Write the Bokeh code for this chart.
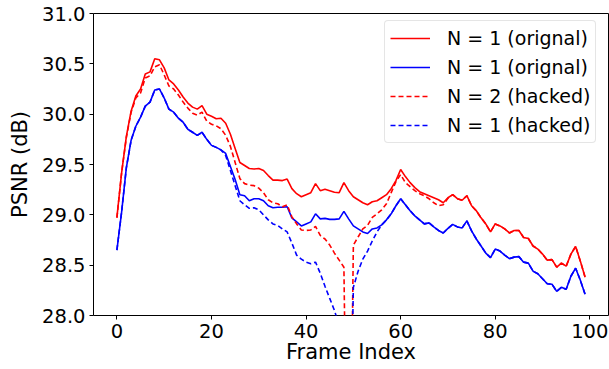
from bokeh.plotting import figure
from bokeh.models import Range1d, FixedTicker, Legend, LegendItem, PrintfTickFormatter
from bokeh.embed import file_html
from bokeh.resources import INLINE

frames = list(range(100))

red_orig = [
    28.975, 29.42, 29.78, 30.03, 30.18, 30.25, 30.40, 30.42, 30.55, 30.54,
    30.46, 30.34, 30.30, 30.24, 30.17, 30.11, 30.07, 30.05, 30.085, 30.00,
    29.98, 29.955, 29.96, 29.91, 29.80, 29.66, 29.52, 29.49, 29.46, 29.455,
    29.46, 29.44, 29.39, 29.345, 29.345, 29.34, 29.355, 29.26, 29.21, 29.18,
    29.20, 29.22, 29.31, 29.24, 29.255, 29.24, 29.225, 29.22, 29.32, 29.24,
    29.18, 29.15, 29.12, 29.10, 29.13, 29.14, 29.17, 29.20, 29.26, 29.34,
    29.45, 29.38, 29.32, 29.27, 29.23, 29.21, 29.19, 29.17, 29.15, 29.12,
    29.17, 29.20, 29.16, 29.145, 29.19, 29.09, 29.04, 28.97, 28.91, 28.83,
    28.91, 28.89, 28.86, 28.82, 28.845, 28.845, 28.775, 28.765, 28.69, 28.66,
    28.61, 28.55, 28.555, 28.48, 28.52, 28.49, 28.61, 28.685, 28.54, 28.38,
]

blue_orig = [
    28.65, 29.03, 29.47, 29.74, 29.88, 29.97, 30.08, 30.12, 30.24, 30.25,
    30.16, 30.05, 30.02, 29.96, 29.92, 29.85, 29.82, 29.79, 29.82, 29.75,
    29.69, 29.67, 29.645, 29.61, 29.48, 29.35, 29.20, 29.19, 29.14, 29.16,
    29.16, 29.14, 29.09, 29.07, 29.075, 29.075, 29.08, 28.97, 28.93, 28.89,
    28.91, 28.93, 29.01, 28.96, 28.965, 28.955, 28.955, 28.96, 29.035, 28.96,
    28.89, 28.86, 28.83, 28.815, 28.86, 28.87, 28.90, 28.95, 29.01, 29.09,
    29.16, 29.10, 29.04, 28.99, 28.95, 28.91, 28.92, 28.88, 28.845, 28.82,
    28.865, 28.905, 28.88, 28.87, 28.94, 28.84, 28.76, 28.69, 28.62, 28.575,
    28.66, 28.64, 28.60, 28.565, 28.58, 28.585, 28.53, 28.52, 28.44, 28.415,
    28.365, 28.315, 28.31, 28.24, 28.28, 28.26, 28.39, 28.47, 28.35, 28.21,
]

red_hacked = [
    28.97, 29.42, 29.77, 30.02, 30.16, 30.21, 30.36, 30.38, 30.47, 30.49,
    30.39, 30.28, 30.25, 30.19, 30.12, 30.06, 30.01, 29.99, 30.02, 29.93,
    29.90, 29.885, 29.855, 29.79, 29.68, 29.52, 29.36, 29.31, 29.295, 29.29,
    29.265, 29.22, 29.15, 29.12, 29.11, 29.08, 29.10, 28.98, 28.91, 28.85,
    28.845, 28.85, 28.885, 28.795, 28.76, 28.70, 28.62, 28.55, 28.48, 25.00,
    28.70, 28.78, 28.86, 28.895, 28.975, 29.01, 29.05, 29.11, 29.22, 29.33,
    29.40, 29.32, 29.28, 29.24, 29.21, 29.19, 29.16, 29.12, 29.09, 29.10,
    29.165, 29.20, 29.16, 29.145, 29.19, 29.09, 29.04, 28.97, 28.91, 28.83,
    28.91, 28.89, 28.86, 28.82, 28.845, 28.845, 28.775, 28.765, 28.69, 28.66,
    28.61, 28.55, 28.555, 28.48, 28.52, 28.49, 28.61, 28.685, 28.54, 28.38,
]

blue_hacked = [
    28.65, 29.03, 29.47, 29.74, 29.88, 29.97, 30.08, 30.12, 30.24, 30.25,
    30.16, 30.05, 30.02, 29.96, 29.92, 29.85, 29.82, 29.79, 29.82, 29.75,
    29.69, 29.67, 29.645, 29.59, 29.44, 29.29, 29.14, 29.10, 29.065, 29.07,
    29.05, 29.00, 28.95, 28.91, 28.895, 28.86, 28.83, 28.72, 28.60, 28.56,
    28.53, 28.515, 28.53, 28.42, 28.29, 28.17, 28.05, 27.90, 26.50, 25.80,
    28.28, 28.44, 28.56, 28.64, 28.74, 28.83, 28.90, 28.95, 29.01, 29.09,
    29.16, 29.10, 29.04, 28.99, 28.95, 28.91, 28.92, 28.88, 28.845, 28.82,
    28.865, 28.905, 28.88, 28.87, 28.94, 28.84, 28.76, 28.69, 28.62, 28.575,
    28.66, 28.64, 28.60, 28.565, 28.58, 28.585, 28.53, 28.52, 28.44, 28.415,
    28.365, 28.315, 28.31, 28.24, 28.28, 28.26, 28.39, 28.47, 28.35, 28.21,
]

labels = ["N = 1 (orignal)", "N = 1 (orignal)", "N = 2 (hacked)", "N = 1 (hacked)"]
x_ticks = [0, 20, 40, 60, 80, 100]
y_ticks = [28.0, 28.5, 29.0, 29.5, 30.0, 30.5, 31.0]
x_label = "Frame Index"
y_label = "PSNR (dB)"

FONT = "DejaVu Sans"
X_MIN, X_MAX = -4.95, 103.95

p = figure(width=609, height=369, output_backend="svg", toolbar_location=None,
           x_range=Range1d(X_MIN, X_MAX), y_range=Range1d(28.0, 31.0),
           min_border_left=93, min_border_right=1, min_border_top=13,
           min_border_bottom=54)
p.xgrid.visible = False
p.ygrid.visible = False
p.outline_line_color = "black"
p.outline_line_width = 1
p.background_fill_color = "white"
p.border_fill_color = "white"

r1 = p.line(frames, red_orig, line_color="red", line_width=1.6)
r2 = p.line(frames, blue_orig, line_color="blue", line_width=1.6)
r3 = p.line(frames, red_hacked, line_color="red", line_width=1.6, line_dash="5 3")
r4 = p.line(frames, blue_hacked, line_color="blue", line_width=1.6, line_dash="5 3")

p.xaxis.ticker = FixedTicker(ticks=x_ticks)
p.yaxis.ticker = FixedTicker(ticks=y_ticks)
p.yaxis.formatter = PrintfTickFormatter(format="%.1f")
p.xaxis.axis_label = x_label
p.yaxis.axis_label = y_label
for ax in (p.xaxis, p.yaxis):
    ax.axis_line_color = None
    ax.major_tick_line_color = "black"
    ax.major_tick_line_width = 1
    ax.major_tick_out = 4
    ax.major_tick_in = 0
    ax.minor_tick_line_color = None
    ax.major_label_standoff = 4
    ax.major_label_text_font = FONT
    ax.major_label_text_font_size = "19.5px"
    ax.major_label_text_color = "black"
    ax.axis_label_text_font = FONT
    ax.axis_label_text_font_size = "21px"
    ax.axis_label_text_font_style = "normal"
    ax.axis_label_text_color = "black"
p.xaxis.axis_label_standoff = -1
p.yaxis.axis_label_standoff = 7

legend = Legend(items=[
    LegendItem(label=labels[0], renderers=[r1]),
    LegendItem(label=labels[1], renderers=[r2]),
    LegendItem(label=labels[2], renderers=[r3]),
    LegendItem(label=labels[3], renderers=[r4]),
], location=(291, 172))
legend.padding = 5
legend.spacing = 5
legend.margin = 0
legend.glyph_width = 40
legend.glyph_height = 24
legend.label_height = 24
legend.label_standoff = 17
legend.label_text_font = FONT
legend.label_text_font_size = "19px"
legend.label_text_color = "black"
legend.border_line_color = "#cccccc"
legend.border_line_width = 1
legend.background_fill_color = "white"
legend.background_fill_alpha = 0.8
if "border_radius" in Legend.properties():
    legend.border_radius = 4
p.add_layout(legend)

open("out.html", "w").write(file_html(p, INLINE))
